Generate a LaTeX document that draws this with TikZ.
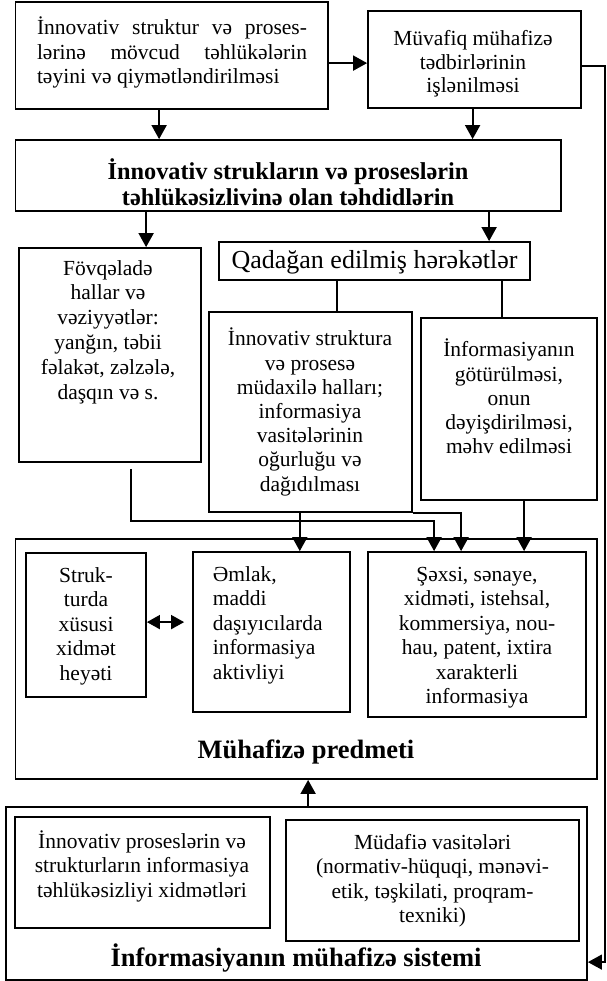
\documentclass[tikz,border=0pt]{standalone}
\usepackage{fontspec}
\setmainfont{Liberation Serif}
\usetikzlibrary{arrows.meta,fit,calc}
\tikzset{
  box/.style={draw, line width=1.8pt, inner sep=0pt},
  txt/.style={inner sep=0pt, align=center, font=\fontsize{21.5}{24.5}\selectfont},
  conn/.style={line width=1.8pt},
  arr/.style={conn, -{Triangle[length=14pt,width=15pt]}},
  darr/.style={conn, {Triangle[length=13pt,width=14pt]}-{Triangle[length=13pt,width=14pt]}},
}
\begin{document}
\begin{tikzpicture}[x=1pt,y=-1pt]
\useasboundingbox (0,0) rectangle (606,981);
% boxes
\node[box, fit={(15.5,2) (328,109)}] (A) {};
\node[box, fit={(368,11) (581,108)}] (B) {};
\node[box, fit={(15.5,140) (561,211)}] (C) {};
\node[box, fit={(219,242) (530,280)}] (Q) {};
\node[box, fit={(19,248) (201,462)}] (D) {};
\node[box, fit={(209,312) (412,512)}] (E) {};
\node[box, fit={(421,318) (597,500)}] (F) {};
\node[box, fit={(15.5,539) (597,779)}] (M) {};
\node[box, fit={(26,553) (146,697)}] (S1) {};
\node[box, fit={(193,552) (350,712)}] (S2) {};
\node[box, fit={(368,552) (586,717)}] (S3) {};
\node[box, fit={(6,807) (587,980)}] (G) {};
\node[box, fit={(14.7,817) (270,928)}] (G1) {};
\node[box, fit={(286,820) (579,941)}] (G2) {};
% texts
\node[txt] (At) at (172,52.5) {\makebox[270pt][s]{İnnovativ struktur və proses-}\\\makebox[270pt][s]{lərinə mövcud təhlükələrin}\\\makebox[270pt][l]{təyini və qiymətləndirilməsi}};
\node[txt, font=\fontsize{21.5}{23.5}\selectfont] (Bt) at (473,64) {Müvafiq mühafizə\\tədbirlərinin\\işlənilməsi};
\node[txt, font=\fontsize{24.3}{25.5}\selectfont\bfseries] (Ct) at (288,182) {İnnovativ strukların və proseslərin\\təhlükəsizlivinə olan təhdidlərin};
\node[txt, font=\fontsize{26}{28}\selectfont] (Qt) at (374.5,262) {Qadağan edilmiş hərəkətlər};
\node[txt, font=\fontsize{21.5}{24.8}\selectfont] (Dt) at (108,332) {Fövqəladə\\hallar və\\vəziyyətlər:\\yanğın, təbii\\fəlakət, zəlzələ,\\daşqın və s.};
\node[txt, font=\fontsize{21.5}{24.2}\selectfont] (Et) at (310,412) {İnnovativ struktura\\və prosesə\\müdaxilə halları;\\informasiya\\vasitələrinin\\oğurluğu və\\dağıdılması};
\node[txt, font=\fontsize{21.5}{24.2}\selectfont] (Ft) at (509,396.5) {İnformasiyanın\\götürülməsi,\\onun\\dəyişdirilməsi,\\məhv edilməsi};
\node[txt] (S1t) at (86,626) {Struk-\\turda\\xüsusi\\xidmət\\heyəti};
\node[txt, align=left, anchor=west] (S2t) at (212.6,625) {Əmlak,\\maddi\\daşıyıcılarda\\informasiya\\aktivliyi};
\node[txt] (S3t) at (477,637.5) {Şəxsi, sənaye,\\xidməti, istehsal,\\kommersiya, nou-\\hau, patent, ixtira\\xarakterli\\informasiya};
\node[txt, font=\fontsize{26.5}{30}\selectfont\bfseries] (Mt) at (306,752) {Mühafizə predmeti};
\node[txt] (G1t) at (142,866) {İnnovativ proseslərin və\\strukturların informasiya\\təhlükəsizliyi xidmətləri};
\node[txt] (G2t) at (432.5,880.5) {Müdafiə vasitələri\\(normativ-hüquqi, mənəvi-\\etik, təşkilati, proqram-\\texniki)};
\node[txt, font=\fontsize{26.5}{30}\selectfont\bfseries] (Gt) at (296,958) {İnformasiyanın mühafizə sistemi};
% connectors
\draw[arr] ($(A.north east)+(0,62)$) -- ($(B.north west)+(0,53)$);
\draw[arr] ($(A.south west)+(144.5,0)$) -- ($(C.north west)+(144.5,0)$);
\draw[arr] ($(B.south west)+(105.5,0)$) -- ($(C.north west)+(458,0)$);
\draw[arr] ($(C.south west)+(131.5,0)$) -- ($(D.north west)+(128,0)$);
\draw[arr] ($(C.south west)+(474.5,0)$) -- ($(Q.north west)+(271,0)$);
\draw[conn] ($(Q.south west)+(119,0)$) -- ($(E.north west)+(129,0)$);
\draw[conn] ($(Q.south west)+(284,0)$) -- ($(F.north west)+(82,0)$);
\draw[arr] ($(D.south west)+(113,6)$) -- ++(0,52) -| ($(S3.north west)+(67,0)$);
\draw[arr] ($(E.south west)+(91.7,0)$) -- ($(S2.north west)+(107.7,0)$);
\draw[arr] (E.south east) -| ($(S3.north west)+(94,0)$);
\draw[arr] ($(F.south west)+(104,0)$) -- ($(S3.north west)+(157,0)$);
\draw[darr] ($(S1.north east)+(0,70)$) -- ($(S2.north west)+(-8,71)$);
\draw[arr] ($(G.north west)+(303,0)$) -- ($(M.south west)+(293.5,0)$);
\draw[arr, line width=1.3pt] ($(B.north east)+(0,56)$) -- ++(23,0) |- ($(G.north east)+(0,156)$);
\end{tikzpicture}
\end{document}
